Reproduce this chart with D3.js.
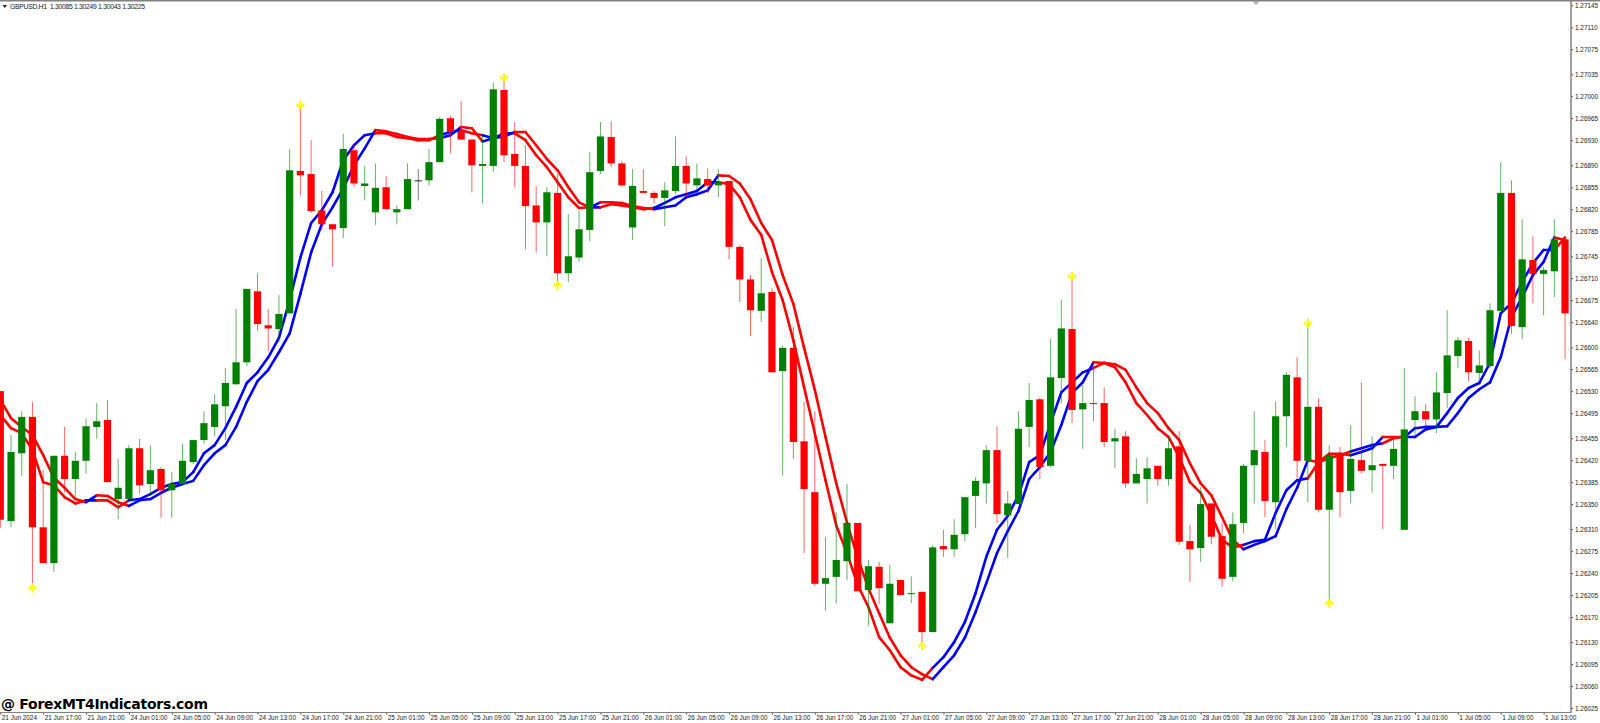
<!DOCTYPE html>
<html>
<head>
<meta charset="utf-8">
<style>
  html, body { margin: 0; padding: 0; background: #fff; }
  svg { display: block; }
  text { font-family: "Liberation Sans", sans-serif; fill: #1a1a1a; }
</style>
<script src="https://d3js.org/d3.v7.min.js"></script>
</head>
<body>
<svg id="chart" width="1600" height="723"></svg>
<script>
// prices are stored in points (1.26530 -> 126530)
var opens = [
126530,126323,126431,126489,126313,126256,126427,126390,126419,126473,
126484,126358,126358,126439,126382,126406,126372,126382,126417,126452,
126473,126506,126541,126576,126689,126635,126629,126654,126881,126876,
126818,126796,126790,126914,126857,126815,126855,126815,126820,126866,
126866,126895,126965,126944,126931,126889,126889,127010,126908,126889,
126826,126799,126846,126718,126743,126787,126881,126935,126893,126791,
126849,126846,126838,126849,126889,126858,126868,126858,126865,126760,
126708,126658,126688,126562,126599,126450,126369,126223,126234,126259,
126320,126213,126250,126160,126229,126207,126210,126146,126283,126278,
126302,126363,126383,126436,126332,126350,126473,126517,126411,126551,
126629,126501,126511,126511,126450,126458,126383,126390,126411,126390,
126442,126291,126280,126351,126299,126234,126320,126412,126433,126353,
126490,126552,126419,126505,126341,126430,126371,126420,126404,126414,
126411,126309,126484,126498,126485,126527,126586,126610,126559,126570,
126658,126846,126632,126739,126717,126721,126772];

var closes = [
126325,126433,126489,126313,126256,126427,126390,126419,126474,126482,
126385,126376,126439,126380,126404,126372,126382,126419,126452,126479,
126509,126543,126576,126693,126637,126630,126653,126882,126874,126817,
126796,126788,126916,126861,126861,126854,126820,126820,126868,126866,
126895,126964,126943,126931,126890,126892,127011,126906,126889,126825,
126799,126847,126718,126745,126788,126879,126936,126893,126858,126857,
126846,126838,126850,126889,126861,126869,126858,126863,126760,126708,
126659,126686,126560,126599,126449,126374,126223,126232,126261,126320,
126211,126251,126216,126223,126205,126208,126146,126281,126278,126301,
126361,126387,126436,126334,126351,126470,126516,126409,126552,126630,
126500,126511,126510,126449,126455,126383,126398,126407,126390,126439,
126290,126278,126350,126298,126231,126318,126411,126436,126355,126490,
126556,126419,126505,126341,126428,126369,126422,126403,126412,126411,
126438,126469,126498,126485,126528,126587,126611,126560,126571,126659,
126846,126634,126740,126717,126723,126772,126654];

var highs = [
126530,126460,126498,126513,126404,126427,126473,126433,126486,126511,
126516,126422,126444,126454,126444,126409,126401,126446,126452,126498,
126525,126567,126661,126693,126718,126661,126683,126916,126981,126930,
126849,126796,126940,126924,126889,126893,126873,126826,126893,126884,
126916,126967,126969,126992,126931,126938,127022,127026,126959,126922,
126857,126855,126876,126812,126818,126911,126959,126960,126897,126884,
126884,126849,126863,126936,126904,126893,126885,126884,126865,126763,
126715,126742,126694,126602,126632,126513,126498,126298,126337,126382,
126320,126261,126258,126253,126229,126235,126211,126285,126309,126326,
126361,126393,126444,126474,126371,126498,126543,126520,126613,126676,
126710,126540,126564,126536,126470,126466,126423,126425,126411,126457,
126466,126317,126377,126351,126320,126337,126414,126498,126452,126514,
126560,126584,126632,126519,126444,126441,126476,126544,126458,126414,
126454,126567,126522,126509,126560,126659,126616,126615,126595,126670,
126895,126866,126804,126777,126728,126804,126772];

var lows = [
126312,126313,126395,126224,126256,126242,126369,126361,126399,126454,
126385,126326,126358,126366,126364,126328,126328,126382,126414,126446,
126458,126452,126540,126570,126627,126594,126608,126654,126842,126814,
126787,126729,126774,126855,126834,126795,126820,126796,126820,126834,
126858,126895,126909,126931,126847,126829,126879,126895,126855,126756,
126751,126745,126704,126704,126736,126769,126876,126887,126855,126771,
126846,126829,126793,126844,126839,126850,126846,126839,126740,126672,
126618,126640,126560,126396,126422,126272,126219,126180,126192,126229,
126211,126156,126191,126160,126205,126192,126130,126146,126266,126266,
126291,126312,126351,126320,126264,126350,126441,126390,126409,126511,
126479,126438,126482,126441,126407,126376,126383,126351,126379,126379,
126285,126226,126258,126286,126218,126227,126304,126351,126329,126310,
126441,126391,126353,126337,126197,126329,126351,126399,126368,126310,
126390,126309,126458,126473,126463,126503,126567,126546,126544,126567,
126658,126621,126613,126670,126651,126680,126581];

// upper and lower value of the indicator band at each bar
var bandUpper = [
126516,126487,126473,126460,126428,126392,126376,126358,126356,126364,
126363,126353,126356,126358,126366,126376,126382,126385,126401,126431,
126444,126471,126505,126543,126560,126584,126615,126675,126743,126798,
126818,126847,126898,126922,126938,126946,126944,126940,126935,126932,
126932,126938,126943,126951,126949,126938,126933,126941,126943,126943,
126922,126900,126882,126855,126831,126823,126831,126831,126830,126825,
126822,126822,126830,126839,126844,126849,126863,126874,126873,126861,
126836,126798,126771,126715,126669,126599,126532,126457,126383,126321,
126264,126216,126176,126137,126109,126090,126079,126089,126106,126130,
126162,126208,126266,126309,126331,126364,126417,126428,126479,126528,
126544,126560,126576,126575,126573,126564,126536,126511,126495,126471,
126452,126415,126383,126364,126329,126293,126285,126291,126293,126336,
126372,126388,126420,126417,126430,126430,126434,126439,126444,126457,
126457,126457,126471,126473,126473,126495,126519,126535,126543,126575,
126654,126670,126704,126734,126755,126775,126775];

var bandLower = [
126492,126471,126463,126436,126385,126380,126361,126351,126353,126356,
126356,126345,126347,126356,126358,126368,126376,126382,126387,126412,
126431,126444,126473,126513,126546,126564,126592,126622,126685,126751,
126796,126823,126853,126890,126917,126941,126941,126935,126933,126930,
126930,126933,126938,126946,126941,126928,126933,126936,126941,126930,
126906,126887,126863,126839,126822,126823,126823,126828,126826,126823,
126820,126820,126823,126826,126839,126844,126850,126863,126860,126839,
126803,126779,126720,126675,126611,126536,126463,126388,126316,126272,
126221,126186,126138,126117,126090,126077,126070,126071,126090,126109,
126137,126178,126224,126272,126307,126339,126390,126409,126433,126476,
126527,126544,126567,126575,126568,126544,126511,126492,126471,126457,
126425,126385,126368,126332,126293,126281,126278,126285,126291,126299,
126342,126376,126391,126417,126423,126428,126428,126433,126439,126447,
126455,126457,126457,126469,126473,126474,126495,126519,126533,126544,
126584,126648,126680,126715,126736,126755,126771];

// bars whose line segment is red, all the others are blue
var redSpans = [[1,8],[10,12],[36,41],[44,45],[49,55],[57,61],[68,87],[103,116],[123,126],[130,131],[146,146]];

// yellow signal arrows
var arrowBars = [3, 28, 47, 52, 86, 100, 122, 124];
var arrowPrices = [126216, 126986, 127030, 126699, 126124, 126713, 126638, 126192];
var arrowDirs = [1, -1, -1, 1, 1, -1, -1, 1];

var priceTicks = [127145,127110,127075,127035,127000,126965,126930,126890,126855,126820,126785,
    126745,126710,126675,126640,126600,126565,126530,126495,126455,126420,126385,126350,126310,
    126275,126240,126205,126170,126130,126095,126060,126025];

var timeLabels = ["21 Jun 2024","21 Jun 17:00","21 Jun 21:00",
    "24 Jun 01:00","24 Jun 05:00","24 Jun 09:00","24 Jun 13:00","24 Jun 17:00","24 Jun 21:00",
    "25 Jun 01:00","25 Jun 05:00","25 Jun 09:00","25 Jun 13:00","25 Jun 17:00","25 Jun 21:00",
    "26 Jun 01:00","26 Jun 05:00","26 Jun 09:00","26 Jun 13:00","26 Jun 17:00","26 Jun 21:00",
    "27 Jun 01:00","27 Jun 05:00","27 Jun 09:00","27 Jun 13:00","27 Jun 17:00","27 Jun 21:00",
    "28 Jun 01:00","28 Jun 05:00","28 Jun 09:00","28 Jun 13:00","28 Jun 17:00","28 Jun 21:00",
    "1 Jul 01:00","1 Jul 05:00","1 Jul 09:00","1 Jul 13:00"];

var GREEN = "#008000", RED = "#ff0000", BLUE = "#0000ff", GRAY = "#808080";

var svg = d3.select("#chart");
var axisRight = 1571, axisBottom = 712.5;

var x = d3.scaleLinear().domain([0, 144]).range([0.3, 1543.6]);
var y = d3.scaleLinear().domain([127145, 126025]).range([5.3, 708]);

function isRed(i) {
    return redSpans.some(function(s){ return i >= s[0] && i <= s[1]; });
}

// the two lines swap places when the colour flips, which gives the little X at each turn
var fastLine = bandUpper.map(function(v, i){ return isRed(i+1) ? bandLower[i] : v; });
var slowLine = bandUpper.map(function(v, i){ return isRed(i+1) ? v : bandLower[i]; });

svg.append("clipPath").attr("id", "plot")
    .append("rect").attr("width", axisRight).attr("height", axisBottom);

var plot = svg.append("g").attr("clip-path", "url(#plot)");

// indicator lines sit under the candles
[slowLine, fastLine].forEach(function(values){
    plot.append("g").selectAll("line")
        .data(d3.range(1, values.length))
        .enter().append("line")
        .attr("x1", function(i){ return x(i-1); })
        .attr("x2", function(i){ return x(i); })
        .attr("y1", function(i){ return y(values[i-1]); })
        .attr("y2", function(i){ return y(values[i]); })
        .attr("stroke", function(i){ return isRed(i) ? RED : BLUE; })
        .attr("stroke-width", 2.6)
        .attr("stroke-linecap", "round");
});

function candleColor(i) {
    if (closes[i] > opens[i]) return GREEN;
    if (closes[i] < opens[i]) return RED;
    return "#222";
}

var candles = plot.append("g").selectAll("g")
    .data(d3.range(opens.length))
    .enter().append("g");

candles.append("line")
    .attr("x1", function(i){ return x(i); })
    .attr("x2", function(i){ return x(i); })
    .attr("y1", function(i){ return y(highs[i]); })
    .attr("y2", function(i){ return y(lows[i]); })
    .attr("stroke", candleColor)
    .attr("stroke-opacity", 0.6)
    .attr("stroke-width", 1);

candles.append("rect")
    .attr("x", function(i){ return x(i) - 3.6; })
    .attr("width", 7.2)
    .attr("y", function(i){ return y(Math.max(opens[i], closes[i])); })
    .attr("height", function(i){ return Math.max(1, Math.abs(y(opens[i]) - y(closes[i]))); })
    .attr("fill", candleColor);

plot.append("g").selectAll("path")
    .data(arrowBars)
    .enter().append("path")
    .attr("d", "M-3.8,1.2 L0,-3 L3.8,1.2 M0,-3 L0,4.5")
    .attr("transform", function(b, k){
        return "translate(" + x(b) + "," + y(arrowPrices[k]) + ") scale(1," + (arrowDirs[k] > 0 ? 1 : -1) + ")";
    })
    .attr("fill", "none")
    .attr("stroke", "#ffff00")
    .attr("stroke-width", 2);

// frame
svg.append("rect").attr("x", 0).attr("y", 0).attr("width", 1600).attr("height", 1.5).attr("fill", GRAY);
svg.append("path").attr("d", "M1252,1 L1260,1 L1256,5 Z").attr("fill", "#b0b0b0");

var yAxis = d3.axisRight(y)
    .tickValues(priceTicks)
    .tickSize(2)
    .tickPadding(2)
    .tickFormat(function(d){ return (d / 100000).toFixed(5); });

var yg = svg.append("g").attr("transform", "translate(" + axisRight + ",0)").call(yAxis);
yg.select(".domain").remove();
yg.selectAll("line").attr("stroke", "#444");
yg.selectAll("text").attr("font-family", null).style("font-size", "6.4px");

var xAxis = d3.axisBottom(x)
    .tickValues(d3.range(0, 145, 4))
    .tickSize(2)
    .tickFormat(function(d){ return timeLabels[d / 4]; });

var xg = svg.append("g").attr("transform", "translate(0," + axisBottom + ")").call(xAxis);
xg.select(".domain").remove();
xg.selectAll("line").attr("stroke", "#444");
xg.selectAll("text")
    .attr("font-family", null)
    .attr("text-anchor", "start")
    .attr("x", 1)
    .attr("y", 3)
    .style("font-size", "6.4px");

svg.append("line").attr("x1", axisRight).attr("x2", axisRight).attr("y1", 0).attr("y2", axisBottom + 0.5)
    .attr("stroke", GRAY).attr("stroke-width", 1.5);
svg.append("line").attr("x1", 0).attr("x2", axisRight).attr("y1", axisBottom).attr("y2", axisBottom)
    .attr("stroke", GRAY).attr("stroke-width", 1.2);

// title and watermark
svg.append("path").attr("d", "M2.5,5 L7,5 L4.75,8 Z").attr("fill", "#222");
svg.append("text").attr("x", 10).attr("y", 9)
    .attr("textLength", 135)
    .style("font-size", "6.8px")
    .style("white-space", "pre")
    .text("GBPUSD,H1  1.30085 1.30249 1.30043 1.30225");

svg.append("text").attr("x", 1).attr("y", 709)
    .attr("textLength", 207)
    .style("font-family", "'DejaVu Sans'")
    .style("font-weight", "bold")
    .style("font-size", "14px")
    .style("fill", "#000")
    .text("@ ForexMT4Indicators.com");
</script>
</body>
</html>
